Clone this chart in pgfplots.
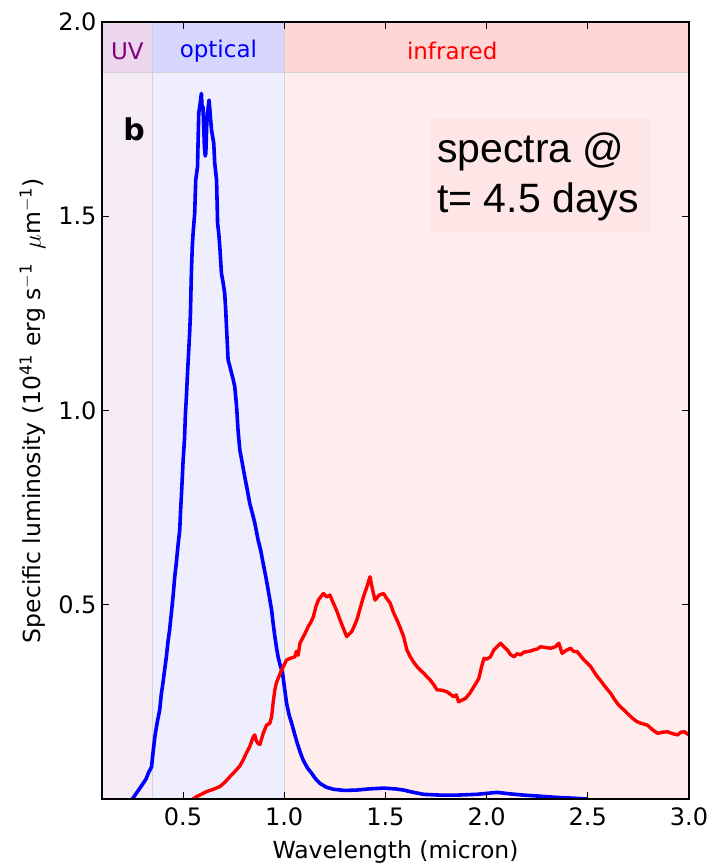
\documentclass[border=0pt]{standalone}
\usepackage{pgfplots}
\pgfplotsset{compat=1.18}
\usepackage{fontspec}
\setmainfont{DejaVu Sans}
\newfontfamily\helv{Liberation Sans}

\definecolor{uvtop}{HTML}{EBD6EB}
\definecolor{uvlow}{HTML}{F4EBF4}
\definecolor{optop}{HTML}{D6D6FF}
\definecolor{oplow}{HTML}{EEEEFF}
\definecolor{irtop}{HTML}{FFD6D6}
\definecolor{irlow}{HTML}{FFECEC}
\definecolor{boxbg}{HTML}{FFE6E6}
\definecolor{sepgray}{HTML}{D2D2D2}

% blue spectrum (optical-dominated)
\pgfplotstableread{
x y
0.250 0.000
0.270 0.015
0.290 0.030
0.303 0.040
0.318 0.052
0.330 0.068
0.345 0.083
0.350 0.110
0.361 0.160
0.372 0.195
0.385 0.229
0.393 0.270
0.401 0.298
0.410 0.335
0.418 0.366
0.426 0.405
0.434 0.435
0.443 0.480
0.451 0.521
0.459 0.570
0.467 0.607
0.476 0.655
0.484 0.692
0.488 0.740
0.492 0.778
0.497 0.830
0.500 0.864
0.508 0.930
0.512 0.990
0.517 1.036
0.521 1.080
0.525 1.121
0.533 1.200
0.537 1.250
0.540 1.320
0.542 1.362
0.546 1.420
0.550 1.456
0.558 1.508
0.561 1.560
0.563 1.593
0.572 1.628
0.575 1.700
0.578 1.765
0.585 1.790
0.591 1.816
0.595 1.775
0.599 1.782
0.603 1.720
0.606 1.679
0.610 1.655
0.613 1.662
0.617 1.730
0.621 1.765
0.629 1.799
0.635 1.760
0.641 1.722
0.652 1.688
0.657 1.636
0.666 1.593
0.669 1.530
0.671 1.482
0.677 1.455
0.682 1.422
0.690 1.353
0.698 1.330
0.706 1.302
0.711 1.260
0.715 1.216
0.723 1.130
0.731 1.115
0.740 1.096
0.748 1.080
0.756 1.061
0.765 1.010
0.772 0.950
0.781 0.898
0.793 0.865
0.805 0.830
0.818 0.795
0.830 0.761
0.843 0.735
0.855 0.710
0.871 0.667
0.884 0.640
0.896 0.607
0.910 0.570
0.921 0.538
0.938 0.486
0.946 0.450
0.954 0.418
0.962 0.390
0.970 0.366
0.980 0.345
0.992 0.324
1.002 0.285
1.012 0.246
1.025 0.215
1.037 0.195
1.049 0.172
1.061 0.150
1.078 0.122
1.094 0.100
1.115 0.080
1.136 0.066
1.155 0.052
1.177 0.040
1.210 0.030
1.244 0.025
1.300 0.022
1.359 0.023
1.420 0.026
1.491 0.028
1.550 0.026
1.590 0.023
1.640 0.017
1.689 0.012
1.770 0.010
1.854 0.010
1.950 0.012
2.052 0.017
2.120 0.013
2.184 0.010
2.270 0.007
2.349 0.004
2.432 0.002
2.500 0.000
}\bluespec

% red spectrum (infrared-dominated)
\pgfplotstableread{
x y
0.550 0.000
0.566 0.006
0.590 0.012
0.616 0.019
0.650 0.025
0.682 0.032
0.705 0.042
0.731 0.057
0.748 0.066
0.764 0.075
0.781 0.085
0.797 0.100
0.813 0.118
0.830 0.135
0.847 0.160
0.855 0.165
0.862 0.150
0.871 0.143
0.880 0.140
0.897 0.170
0.913 0.190
0.929 0.195
0.938 0.212
0.946 0.250
0.954 0.281
0.962 0.300
0.970 0.310
0.987 0.332
1.000 0.345
1.012 0.358
1.030 0.362
1.053 0.366
1.060 0.380
1.069 0.370
1.078 0.401
1.086 0.409
1.102 0.425
1.119 0.444
1.132 0.455
1.144 0.469
1.157 0.495
1.169 0.512
1.180 0.520
1.194 0.529
1.210 0.520
1.226 0.525
1.238 0.510
1.251 0.495
1.263 0.480
1.276 0.461
1.292 0.440
1.309 0.418
1.320 0.424
1.334 0.431
1.346 0.445
1.359 0.461
1.375 0.490
1.392 0.521
1.408 0.545
1.424 0.572
1.436 0.540
1.449 0.512
1.470 0.525
1.491 0.529
1.508 0.515
1.524 0.504
1.540 0.480
1.557 0.461
1.574 0.440
1.590 0.418
1.606 0.384
1.623 0.366
1.640 0.352
1.656 0.341
1.672 0.332
1.689 0.324
1.705 0.315
1.722 0.306
1.738 0.295
1.755 0.281
1.780 0.280
1.804 0.276
1.820 0.270
1.838 0.263
1.850 0.268
1.862 0.250
1.880 0.255
1.896 0.259
1.917 0.272
1.937 0.289
1.950 0.300
1.962 0.311
1.975 0.340
1.987 0.362
2.000 0.360
2.019 0.366
2.036 0.384
2.052 0.392
2.069 0.401
2.085 0.392
2.102 0.384
2.118 0.372
2.135 0.366
2.150 0.374
2.168 0.371
2.184 0.378
2.200 0.379
2.217 0.381
2.233 0.384
2.250 0.386
2.267 0.392
2.290 0.390
2.316 0.388
2.340 0.392
2.357 0.401
2.373 0.375
2.395 0.383
2.415 0.388
2.430 0.380
2.448 0.379
2.465 0.368
2.481 0.358
2.497 0.350
2.514 0.341
2.530 0.328
2.547 0.315
2.563 0.305
2.580 0.293
2.597 0.282
2.613 0.272
2.630 0.258
2.646 0.246
2.662 0.237
2.679 0.229
2.700 0.218
2.721 0.208
2.740 0.200
2.762 0.195
2.795 0.190
2.820 0.178
2.845 0.169
2.870 0.172
2.894 0.173
2.920 0.168
2.944 0.165
2.960 0.172
2.977 0.173
3.000 0.165
}\redspec

\begin{document}
\begin{tikzpicture}
\useasboundingbox (-102pt,-65pt) rectangle (613pt,799pt);
\begin{axis}[
  scale only axis,
  width=587pt, height=777pt,
  xmin=0.1, xmax=3.0, ymin=0, ymax=2.0,
  xtick={0.5,1.0,1.5,2.0,2.5,3.0},
  ytick={0.5,1.0,1.5,2.0},
  /pgf/number format/fixed,
  /pgf/number format/fixed zerofill,
  /pgf/number format/precision=1,
  /pgf/number format/assume math mode=true,
  tick label style={font=\fontsize{24}{28}\selectfont},
  xticklabel style={yshift=-5pt},
  yticklabel style={xshift=-2pt},
  label style={font=\fontsize{23.5}{28}\selectfont},
  tick align=inside,
  major tick length=7pt,
  tick style={black, line width=0.8pt},
  axis line style={black, line width=1.2pt},
  axis on top,
  xlabel={Wavelength (micron)},
  ylabel={Specific luminosity (10\textsuperscript{41} erg s\textsuperscript{$-$1}\ \ $\mu$m\textsuperscript{$-$1})},
  xlabel style={yshift=-8pt},
  ylabel style={yshift=6pt},
]
  % wavelength bands
  \fill[uvlow] (axis cs:0.1,0) rectangle (axis cs:0.35,1.87);
  \fill[oplow] (axis cs:0.35,0) rectangle (axis cs:1.0,1.87);
  \fill[irlow] (axis cs:1.0,0) rectangle (axis cs:3.0,1.87);
  \fill[uvtop] (axis cs:0.1,1.87) rectangle (axis cs:0.35,2.0);
  \fill[optop] (axis cs:0.35,1.87) rectangle (axis cs:1.0,2.0);
  \fill[irtop] (axis cs:1.0,1.87) rectangle (axis cs:3.0,2.0);
  \draw[sepgray, line width=1.2pt] (axis cs:0.35,0) -- (axis cs:0.35,2.0);
  \draw[sepgray, line width=1.2pt] (axis cs:1.0,0) -- (axis cs:1.0,2.0);
  \draw[sepgray, line width=1.2pt] (axis cs:0.1,1.87) -- (axis cs:3.0,1.87);

  \node[font=\fontsize{23}{27}\selectfont, text={rgb,255:red,128;green,0;blue,128}] at (axis cs:0.225,1.925) {UV};
  \node[font=\fontsize{23}{27}\selectfont, text=blue] at (axis cs:0.675,1.925) {optical};
  \node[font=\fontsize{23}{27}\selectfont, text=red] at (axis cs:1.83,1.925) {infrared};

  \node[font=\fontsize{30}{34}\selectfont\bfseries, anchor=base west, inner sep=0pt] at (axis cs:0.205,1.696) {b};

  \fill[boxbg] (axis cs:1.72,1.459) rectangle (axis cs:2.81,1.753);
  \node[font=\helv\fontsize{41}{50}\selectfont, anchor=north west, align=left, inner sep=0pt] at (axis cs:1.755,1.715) {spectra @\\t= 4.5 days};

  \addplot[blue, line width=3.6pt, line join=round] table[x=x, y=y] {\bluespec};
  \addplot[red, line width=3.4pt, line join=round] table[x=x, y=y] {\redspec};
\end{axis}
\end{tikzpicture}
\end{document}
